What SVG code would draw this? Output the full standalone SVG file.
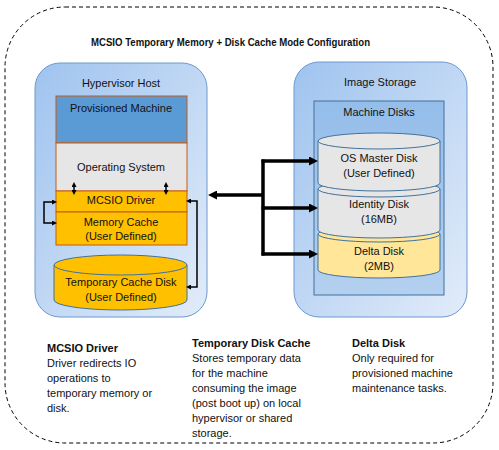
<svg xmlns="http://www.w3.org/2000/svg" width="499" height="450" viewBox="0 0 499 450">
<style>
text{font-family:"Liberation Sans",Arial,sans-serif;font-size:11px;fill:#111;}
.c{text-anchor:middle;}
.b{font-weight:bold;}
.host{stroke:#6d98cf;stroke-width:1;}
.stk{stroke:#c55a11;stroke-width:1;}
.disk{stroke:#41719c;stroke-width:1;}
.thick{fill:none;stroke:#000;stroke-width:3.5;}
.thin{fill:none;stroke:#000;stroke-width:1.5;}
</style>
<defs>
<linearGradient id="hg" x1="0" y1="0" x2="1" y2="1">
<stop offset="0" stop-color="#9fc3ef"/>
<stop offset="1" stop-color="#e2ecf9"/>
</linearGradient>
<linearGradient id="mg" x1="0" y1="0" x2="0" y2="1">
<stop offset="0" stop-color="#94bdea"/>
<stop offset="1" stop-color="#b4d0f0"/>
</linearGradient>
<marker id="big" viewBox="0 0 10 10" refX="3.3" refY="5" markerWidth="9" markerHeight="9" markerUnits="userSpaceOnUse" orient="auto">
<path d="M0,0 L10,5 L0,10 z" fill="#000"/>
</marker>
<marker id="sm" viewBox="0 0 10 10" refX="6" refY="5" markerWidth="5" markerHeight="5" markerUnits="userSpaceOnUse" orient="auto-start-reverse">
<path d="M0,0 L10,5 L0,10 z" fill="#000"/>
</marker>
</defs>

<g id="frame">
<rect x="5" y="7" width="488" height="436" rx="60" ry="60" fill="none" stroke="#000" stroke-width="1" stroke-dasharray="4,3"/>
<text class="c b" x="230.5" y="46" textLength="279" lengthAdjust="spacingAndGlyphs">MCSIO Temporary Memory + Disk Cache Mode Configuration</text>
</g>

<g id="hypervisor-host">
<rect class="host" x="35" y="63" width="172" height="254" rx="25" ry="25" fill="url(#hg)"/>
<text class="c" x="121" y="87">Hypervisor Host</text>
</g>

<g id="provisioned-machine">
<rect class="stk" x="56" y="96" width="131" height="47" fill="#5b9bd5"/>
<text class="c" x="121" y="112">Provisioned Machine</text>
</g>
<g id="operating-system">
<rect class="stk" x="56" y="143" width="131" height="48" fill="#e7e6e6"/>
<text class="c" x="121" y="171">Operating System</text>
</g>
<g id="mcsio-driver">
<rect class="stk" x="56" y="191" width="131" height="21" fill="#ffc000"/>
<text class="c" x="121" y="204">MCSIO Driver</text>
</g>
<g id="memory-cache">
<rect class="stk" x="56" y="212" width="131" height="33" fill="#ffc000"/>
<text class="c" x="121" y="226">Memory Cache</text>
<text class="c" x="121" y="240">(User Defined)</text>
</g>

<g id="temporary-cache-disk">
<path class="disk" d="M54,265 V300 A66.5,10 0 0 0 187,300 V265" fill="#ffc000"/>
<ellipse class="disk" cx="120.5" cy="265" rx="66.5" ry="10" fill="#ffc000"/>
<text class="c" x="121" y="286">Temporary Cache Disk</text>
<text class="c" x="121" y="301">(User Defined)</text>
</g>

<g id="image-storage">
<rect class="host" x="294" y="62" width="173" height="255" rx="25" ry="25" fill="url(#hg)"/>
<text class="c" x="380" y="86">Image Storage</text>
</g>

<g id="machine-disks">
<rect x="314" y="101" width="130" height="194" fill="url(#mg)" stroke="#41719c" stroke-width="1"/>
<text class="c" x="379" y="116">Machine Disks</text>
</g>

<g id="delta-disk">
<path class="disk" d="M318,234 V270 A61,8 0 0 0 440,270 V234" fill="#ffe699"/>
<ellipse class="disk" cx="379" cy="234" rx="61" ry="8" fill="#ffe699"/>
<text class="c" x="379" y="255">Delta Disk</text>
<text class="c" x="379" y="270">(2MB)</text>
</g>

<g id="identity-disk">
<path class="disk" d="M318,189 V230 A61,8 0 0 0 440,230 V189" fill="#e7e6e6"/>
<ellipse class="disk" cx="379" cy="189" rx="61" ry="8" fill="#e7e6e6"/>
<text class="c" x="379" y="208">Identity Disk</text>
<text class="c" x="379" y="223">(16MB)</text>
</g>

<g id="os-master-disk">
<path class="disk" d="M318,141 V183 A61,8 0 0 0 440,183 V141" fill="#e7e6e6"/>
<ellipse class="disk" cx="379" cy="141" rx="61" ry="8" fill="#e7e6e6"/>
<text class="c" x="379" y="162">OS Master Disk</text>
<text class="c" x="379" y="177">(User Defined)</text>
</g>

<g id="connectors">
<path class="thick" d="M263,195 H214" marker-end="url(#big)"/>
<path class="thick" d="M263,159.5 V255.5"/>
<path class="thick" d="M261.5,161 H312" marker-end="url(#big)"/>
<path class="thick" d="M261.5,208 H312" marker-end="url(#big)"/>
<path class="thick" d="M261.5,254 H312" marker-end="url(#big)"/>
<path class="thin" d="M74,184 V193" marker-start="url(#sm)" marker-end="url(#sm)"/>
<path class="thin" d="M166,184 V193" marker-start="url(#sm)" marker-end="url(#sm)"/>
<path class="thin" d="M55,202 H44 V223 H55" marker-start="url(#sm)" marker-end="url(#sm)"/>
<path class="thin" d="M188,201 H197 V287 H188" marker-start="url(#sm)" marker-end="url(#sm)"/>
</g>

<g id="notes">
<text class="b" x="47" y="352">MCSIO Driver</text>
<text x="47" y="367">Driver redirects IO</text>
<text x="47" y="382">operations to</text>
<text x="47" y="397">temporary memory or</text>
<text x="47" y="412">disk.</text>
<text class="b" x="192" y="347">Temporary Disk Cache</text>
<text x="192" y="362">Stores temporary data</text>
<text x="192" y="377">for the machine</text>
<text x="192" y="392">consuming the image</text>
<text x="192" y="407">(post boot up) on local</text>
<text x="192" y="422">hypervisor or shared</text>
<text x="192" y="437">storage.</text>
<text class="b" x="352" y="347">Delta Disk</text>
<text x="352" y="362">Only required for</text>
<text x="352" y="377">provisioned machine</text>
<text x="352" y="392">maintenance tasks.</text>
</g>
</svg>
